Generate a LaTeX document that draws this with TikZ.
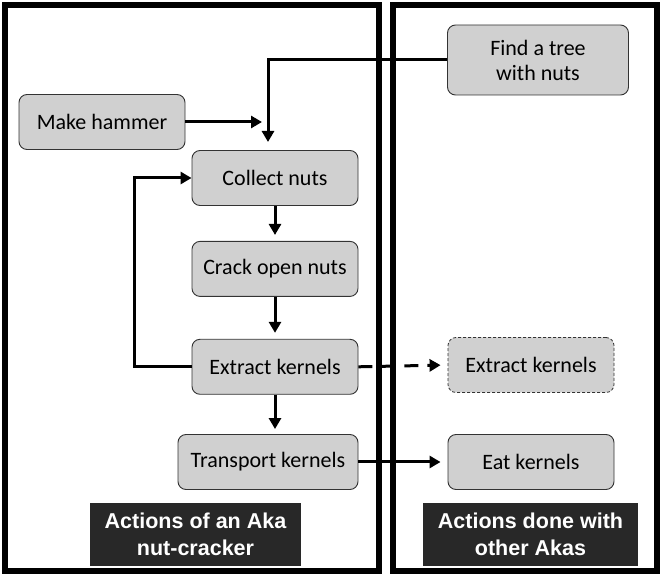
\documentclass[tikz,border=0pt]{standalone}
\usepackage{fontspec}
\setmainfont{Carlito}
\newfontfamily\capfont{Liberation Sans}
\usetikzlibrary{positioning, arrows.meta}

\definecolor{boxgray}{RGB}{208,208,208}
\definecolor{capgray}{RGB}{40,40,40}

\tikzset{
  act/.style={draw=black!80, line width=0.9pt, fill=boxgray, rounded corners=8pt, minimum width=166pt, minimum height=55pt, align=center, inner sep=2pt, font=\fontsize{22}{25}\selectfont},
  flow/.style={line width=3pt, -{Triangle[length=11pt,width=12pt]}},
  panel/.style={line width=5.5pt},
  caption/.style={fill=capgray, text=white, align=center, minimum height=63pt, font=\capfont\bfseries\fontsize{21.5}{27}\selectfont}
}

\begin{document}
\begin{tikzpicture}[x=1pt, y=-1pt, node distance=35pt]
\useasboundingbox (0,0) rectangle (662,577);
\draw[panel] (5,5) rectangle (379,571);
\draw[panel] (393,5) rectangle (657,571);

\node[act] (hammer) at (102,122) {Make hammer};
\node[act] (collect) at (275,178) {Collect nuts};
\node[act, below=35pt of collect] (crack) {Crack open nuts};
\node[act, below=42pt of crack] (extract) {Extract kernels};
\node[act, minimum width=180pt] (transport) at (268,462) {Transport kernels};

\node[act, minimum width=181pt, minimum height=70pt] (tree) at (538,60) {Find a tree\\with nuts};
\node[act, dashed, line width=0.8pt, dash pattern=on 3pt off 2pt] (extract2) at (531,365) {Extract kernels};
\node[act] (eat) at (531,462) {Eat kernels};

\node[caption, minimum width=211pt] (capleft) at (195.5,534.5) {Actions of an Aka\\nut-cracker};
\node[caption, minimum width=215pt] (capright) at (530.5,534.5) {Actions done with\\other Akas};

\coordinate (drop) at (268,142);
\coordinate (hammerend) at (262,122);

\draw[flow] (tree.west) -| (drop);
\draw[flow] (hammer.east) -- (hammerend);
\draw[flow, shorten >=6pt] (collect) -- (crack);
\draw[flow, shorten >=6pt] (crack) -- (extract);
\draw[flow, shorten >=5pt] (extract.south) -- (extract.south |- transport.north);
\draw[flow] (extract.west) -- ++(-57,0) |- (collect.west);
\draw[flow, shorten >=7pt, dash pattern=on 14pt off 9pt] (extract.east) -- (extract2.west);
\draw[flow, shorten >=7pt] (transport.east) -- (eat.west);
\end{tikzpicture}
\end{document}
